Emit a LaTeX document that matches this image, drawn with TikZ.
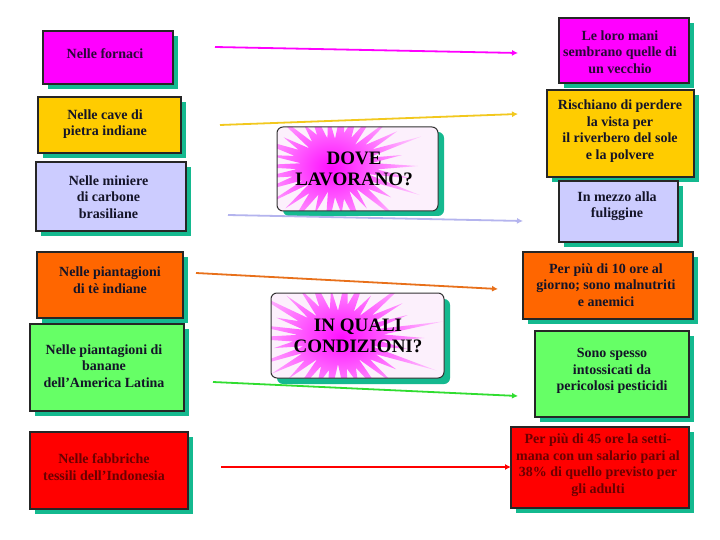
\documentclass[tikz,border=0pt]{standalone}
\usepackage{fontspec}
\setmainfont{Liberation Serif}
\usetikzlibrary{shadows,arrows.meta}
\definecolor{shd}{HTML}{14B98F}
\definecolor{cmag}{HTML}{FF00FF}
\definecolor{cgold}{HTML}{FFCC00}
\definecolor{clav}{HTML}{CCCCFF}
\definecolor{corg}{HTML}{FF6600}
\definecolor{cgrn}{HTML}{66FF66}
\definecolor{cred}{HTML}{FF0000}
\definecolor{txt}{HTML}{141428}
\definecolor{txtred}{HTML}{6A0000}
\definecolor{txtmag}{HTML}{2A0838}
\definecolor{agold}{HTML}{F2C81E}
\definecolor{alav}{HTML}{B4B4EE}
\definecolor{aorg}{HTML}{E8701A}
\definecolor{agrn}{HTML}{30DD30}
\definecolor{pinkbg}{HTML}{FCF0FC}
\tikzset{
  box/.style={draw=black!85, line width=1.2pt, inner sep=0pt,
    general shadow={fill=shd, shadow xshift=5pt, shadow yshift=-5pt}},
  lbl/.style={align=center, inner sep=0pt, text=txt,
    font=\bfseries\fontsize{14}{16.6}\selectfont},
  big/.style={align=center, inner sep=0pt, text=black,
    font=\bfseries\fontsize{19}{21}\selectfont},
  conn/.style={line width=1.8pt, -{Latex[length=6pt,width=6pt]}},
  cbox/.style={draw=black!80, line width=1pt, rounded corners=6pt},
  burst/.style={inner color=cmag!95, outer color=cmag!22},
}
\begin{document}
\begin{tikzpicture}[x=1pt,y=-1pt]
\useasboundingbox (0,0) rectangle (720,540);
\fill[white] (0,0) rectangle (720,540);

% ---- left column ----
\node[box, fill=cmag, minimum width=130pt, minimum height=53pt] (l1) at (108,57.5) {};
\node[lbl, text=txtmag] (tl1) at (105,54) {Nelle fornaci};
\node[box, fill=cgold, minimum width=143pt, minimum height=56pt] (l2) at (109.5,125) {};
\node[lbl] (tl2) at (105,124) {Nelle cave di\\pietra indiane};
\node[box, fill=clav, minimum width=150pt, minimum height=69pt] (l3) at (111,196.5) {};
\node[lbl] (tl3) at (108.5,197) {Nelle miniere\\di carbone\\brasiliane};
\node[box, fill=corg, minimum width=146pt, minimum height=66pt] (l4) at (110,285) {};
\node[lbl] (tl4) at (110,280) {Nelle piantagioni\\di tè indiane};
\node[box, fill=cgrn, minimum width=154pt, minimum height=87pt] (l5) at (107,367.5) {};
\node[lbl] (tl5) at (104,366) {Nelle piantagioni di\\banane\\dell’America Latina};
\node[box, fill=cred, minimum width=158pt, minimum height=77pt] (l6) at (109,470.5) {};
\node[lbl, text=txtred] (tl6) at (104,467) {Nelle fabbriche\\tessili dell’Indonesia};

% ---- right column ----
\node[box, fill=cmag, minimum width=130pt, minimum height=65pt] (r1) at (624,50.5) {};
\node[lbl, text=txtmag] (tr1) at (620,52) {Le loro mani\\sembrano quelle di\\un vecchio};
\node[box, fill=cgold, minimum width=147pt, minimum height=87pt] (r2) at (620.5,133.5) {};
\node[lbl] (tr2) at (620,131) {Rischiano di perdere\\la vista per\\il riverbero del sole\\e la polvere};
\node[box, fill=clav, minimum width=119pt, minimum height=61pt] (r3) at (618.5,211.5) {};
\node[lbl] (tr3) at (617,206) {In mezzo alla\\fuliggine};
\node[box, fill=corg, minimum width=170pt, minimum height=67pt] (r4) at (608,285.5) {};
\node[lbl] (tr4) at (606,285) {Per più di 10 ore al\\giorno; sono malnutriti\\e anemici};
\node[box, fill=cgrn, minimum width=154pt, minimum height=86pt] (r5) at (612,374) {};
\node[lbl] (tr5) at (612,371) {Sono spesso\\intossicati da\\pericolosi pesticidi};
\node[box, fill=cred, minimum width=178pt, minimum height=81pt] (r6) at (600,467.5) {};
\node[lbl, text=txtred] (tr6) at (598,465) {Per più di 45 ore la setti-\\mana con un salario pari al\\38\% di quello previsto per\\gli adulti};

% ---- centre boxes ----
\fill[shd, rounded corners=6pt] (283,132) rectangle (444,216);
\fill[pinkbg, rounded corners=6pt] (277,127) rectangle (438,211);
\begin{scope}
  \clip[rounded corners=6pt] (277,127) rectangle (438,211);
  \shade[burst, shift={(335,166)}, xscale=1.3]
    plot[samples at={0,...,59}, variable=\k]
      ({\k*6}:{mod(\k,2)==0 ? 64+16*sin(\k*97) : 30+4*cos(\k*53)}) -- cycle;
\end{scope}
\node[cbox, minimum width=161pt, minimum height=84pt] (dove) at (357.5,169) {};
\node[big] (tdove) at (354,169) {DOVE\\LAVORANO?};

\fill[shd, rounded corners=6pt] (277,299) rectangle (450,384);
\fill[pinkbg, rounded corners=6pt] (271,293) rectangle (444,378);
\begin{scope}
  \clip[rounded corners=6pt] (271,293) rectangle (444,378);
  \shade[burst, shift={(338,338)}, xscale=1.35]
    plot[samples at={0,...,59}, variable=\k]
      ({\k*6}:{mod(\k,2)==0 ? 64+16*sin(\k*113) : 30+4*cos(\k*61)}) -- cycle;
\end{scope}
\node[cbox, minimum width=173pt, minimum height=85pt] (qual) at (357.5,335.5) {};
\node[big] (tqual) at (358,336) {IN QUALI\\CONDIZIONI?};

% ---- arrows ----
\coordinate (a1s) at (215,47);  \coordinate (a1e) at (518,53);
\coordinate (a2s) at (220,125); \coordinate (a2e) at (518,114);
\coordinate (a3s) at (228,215); \coordinate (a3e) at (523,221);
\coordinate (a4s) at (196,273); \coordinate (a4e) at (498,289);
\coordinate (a5s) at (213,382); \coordinate (a5e) at (518,396);
\coordinate (a6s) at (221,467); \coordinate (a6e) at (511,467);
\draw[conn, cmag] (a1s) -- (a1e);
\draw[conn, agold] (a2s) -- (a2e);
\draw[conn, alav] (a3s) -- (a3e);
\draw[conn, aorg] (a4s) -- (a4e);
\draw[conn, agrn] (a5s) -- (a5e);
\draw[conn, cred] (a6s) -- (a6e);
\end{tikzpicture}
\end{document}
